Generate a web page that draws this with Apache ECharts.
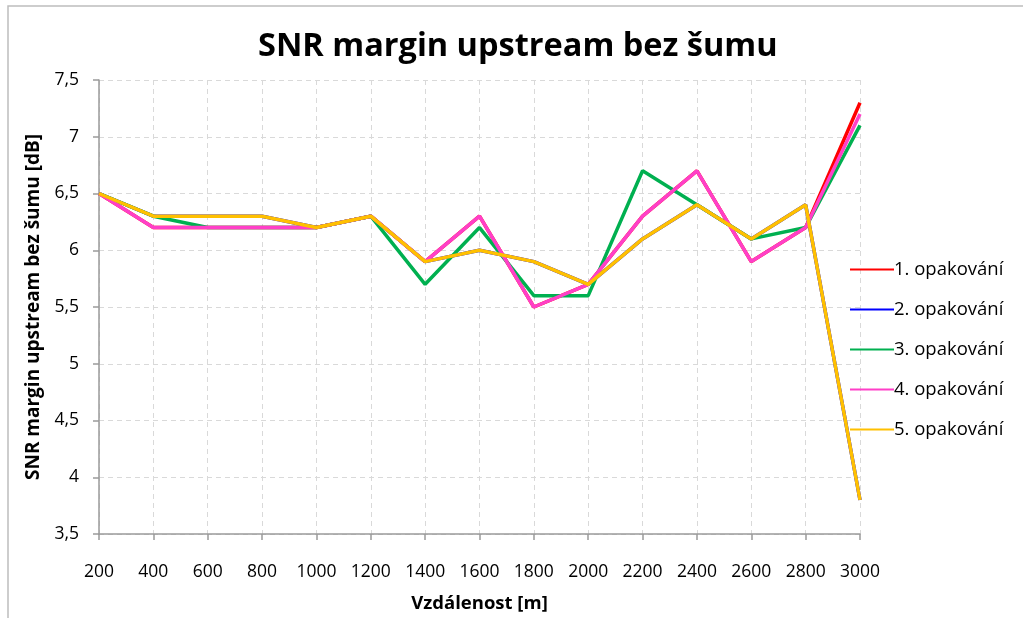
<!DOCTYPE html>
<html>
<head>
<meta charset="utf-8">
<script src="https://cdn.jsdelivr.net/npm/echarts@6/dist/echarts.min.js"></script>
<style>
  html, body { margin: 0; padding: 0; background: #fff; }
  #chart { width: 1023px; height: 618px; }
</style>
</head>
<body>
<div id="chart"></div>
<script>
// vzdálenost [m]
var distances = ['200', '400', '600', '800', '1000', '1200', '1400', '1600',
    '1800', '2000', '2200', '2400', '2600', '2800', '3000'];

// SNR margin [dB] per opakování
var rep1 = [6.5, 6.2, 6.2, 6.2, 6.2, 6.3, 5.9, 6.3, 5.5, 5.7, 6.3, 6.7, 5.9, 6.2, 7.3];
var rep2 = [6.5, 6.3, 6.3, 6.3, 6.2, 6.3, 5.9, 6.0, 5.9, 5.7, 6.1, 6.4, 6.1, 6.4, 3.8];
var rep3 = [6.5, 6.3, 6.2, 6.2, 6.2, 6.3, 5.7, 6.2, 5.6, 5.6, 6.7, 6.4, 6.1, 6.2, 7.1];
var rep4 = [6.5, 6.2, 6.2, 6.2, 6.2, 6.3, 5.9, 6.3, 5.5, 5.7, 6.3, 6.7, 5.9, 6.2, 7.2];
var rep5 = [6.5, 6.3, 6.3, 6.3, 6.2, 6.3, 5.9, 6.0, 5.9, 5.7, 6.1, 6.4, 6.1, 6.4, 3.8];

var seriesNames = ['1. opakování', '2. opakování', '3. opakování', '4. opakování', '5. opakování'];
var seriesColors = ['#ff0000', '#0000ff', '#00b050', '#ff3fc8', '#ffc000'];
var seriesData = [rep1, rep2, rep3, rep4, rep5];

var font = '"Open Sans", Lato, sans-serif';

var chart = echarts.init(document.getElementById('chart'));

var option = {
    backgroundColor: '#fff',
    animation: false,
    textStyle: { fontFamily: font },
    title: {
        text: 'SNR margin upstream bez šumu',
        left: 253,
        top: 25,
        textStyle: { fontFamily: font, fontSize: 32.5, fontWeight: 'bold', color: '#000' }
    },
    graphic: [{
        type: 'rect',
        shape: { x: 8, y: 6, width: 1030, height: 640 },
        style: { fill: 'none', stroke: '#bdbdbd', lineWidth: 1.5 },
        silent: true
    }],
    legend: {
        orient: 'vertical',
        left: 845,
        top: 255,
        itemGap: 21,
        itemWidth: 44,
        itemHeight: 24,
        icon: 'path://M0,11 L44,11 L44,13 L0,13 Z',
        textStyle: { fontFamily: font, fontSize: 18.5, color: '#000', padding: [0, 0, 0, -5] },
        data: seriesNames
    },
    grid: {
        left: 99,
        right: 163,
        top: 80,
        bottom: 74
    },
    xAxis: {
        type: 'category',
        boundaryGap: false,
        data: distances,
        name: 'Vzdálenost [m]',
        nameLocation: 'middle',
        nameGap: 60,
        nameTextStyle: { fontFamily: font, fontSize: 18.5, fontWeight: 'bold', color: '#000' },
        axisLine: { lineStyle: { color: '#9a9a9a', width: 1.5 } },
        axisTick: { show: true, length: 6, alignWithLabel: true, lineStyle: { color: '#9a9a9a', width: 1.5 } },
        axisLabel: { fontFamily: font, fontSize: 17.5, color: '#000', margin: 29 },
        splitLine: { show: true, lineStyle: { color: '#d9d9d9', type: [5, 4] } }
    },
    yAxis: {
        type: 'value',
        min: 3.5,
        max: 7.5,
        interval: 0.5,
        name: 'SNR margin upstream bez šumu [dB]',
        nameLocation: 'middle',
        nameGap: 56,
        nameTextStyle: { fontFamily: font, fontSize: 19, fontWeight: 'bold', color: '#000' },
        axisLine: { show: true, lineStyle: { color: '#9a9a9a', width: 1.5 } },
        axisTick: { show: true, length: 6, lineStyle: { color: '#9a9a9a', width: 1.5 } },
        axisLabel: {
            fontFamily: font, fontSize: 17.5, color: '#000', margin: 20,
            formatter: function (v) { return String(v).replace('.', ','); }
        },
        splitLine: { show: true, lineStyle: { color: '#d9d9d9', type: [5, 4] } }
    },
    series: seriesNames.map(function (name, i) {
        return {
            name: name,
            type: 'line',
            data: seriesData[i],
            symbol: 'none',
            color: seriesColors[i],
            lineStyle: { width: 3.5, color: seriesColors[i] }
        };
    })
};

chart.setOption(option);
</script>
</body>
</html>
